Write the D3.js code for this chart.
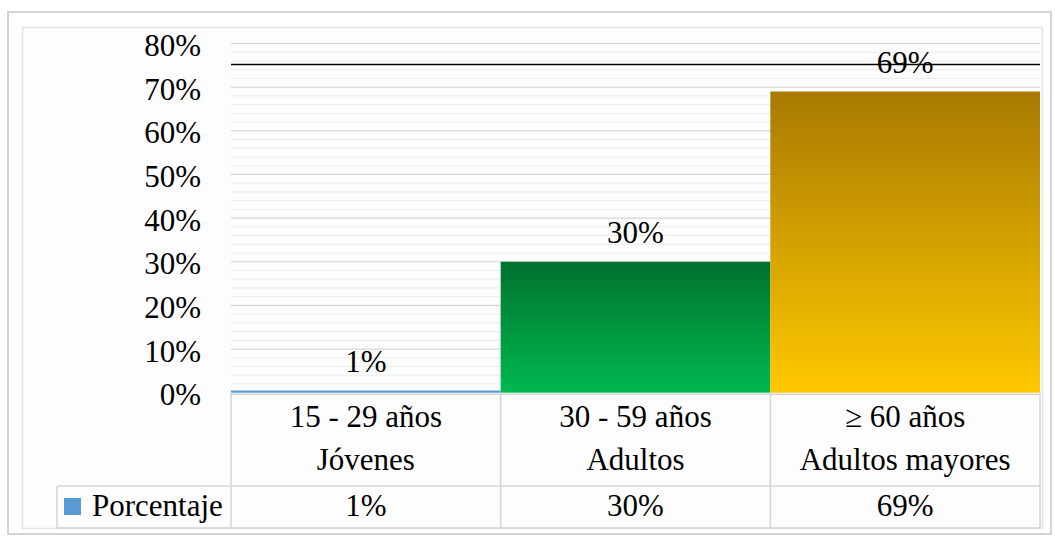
<!DOCTYPE html>
<html>
<head>
<meta charset="utf-8">
<script src="https://cdn.jsdelivr.net/npm/d3@7"></script>
<style>
  body { margin: 0; background: #fff; }
  svg { display: block; }
</style>
</head>
<body>
<svg width="1055" height="537"></svg>
<script>
// data
const categories = ["15 - 29 años|Jóvenes", "30 - 59 años|Adultos", "≥ 60 años|Adultos mayores"];
const values = [0.5, 30, 69];
const valueLabels = ["1%", "30%", "69%"];
const yTicks = [0, 10, 20, 30, 40, 50, 60, 70, 80];
const refLine = 75.2;
const seriesName = "Porcentaje";

let svg = d3.select("svg"),
    width = +svg.attr("width"),
    height = +svg.attr("height");

let plotLeft = 231, plotRight = 1040, plotTop = 43.5, plotBottom = 392.7;
let fs = 31;
let ff = "'Liberation Serif'";

// frames
svg.append("rect").attr("x", 8).attr("y", 12).attr("width", 1043).attr("height", 522)
  .attr("fill", "#fff").attr("stroke", "#d4d4d4").attr("stroke-width", 2);
svg.append("rect").attr("x", 22.5).attr("y", 27.5).attr("width", 1020).attr("height", 501)
  .attr("fill", "#fdfdfd").attr("stroke", "#e4e4e4").attr("stroke-width", 1.5);

let x = d3.scaleBand().domain(categories).range([plotLeft, plotRight]).padding(0);
let y = d3.scaleLinear().domain([0, 80]).range([plotBottom, plotTop]);

// gradients
let defs = svg.append("defs");
let grads = [
  ["g0", "#5B9BD5", "#5B9BD5"],
  ["g1", "#00722E", "#00B850"],
  ["g2", "#A87A00", "#FFC800"]
];
grads.forEach(g => {
  let lg = defs.append("linearGradient").attr("id", g[0]).attr("x1", 0).attr("y1", 0).attr("x2", 0).attr("y2", 1);
  lg.append("stop").attr("offset", "0%").attr("stop-color", g[1]);
  lg.append("stop").attr("offset", "100%").attr("stop-color", g[2]);
});

// minor gridlines every 2%
let minor = d3.range(0, 81, 2).filter(v => v % 10 !== 0);
svg.append("g").selectAll("line").data(minor).enter().append("line")
  .attr("x1", plotLeft).attr("x2", plotRight)
  .attr("y1", d => y(d)).attr("y2", d => y(d))
  .attr("stroke", "#ebebeb").attr("stroke-width", 1);
svg.append("g").selectAll("line").data(yTicks.filter(d => d > 0)).enter().append("line")
  .attr("x1", plotLeft).attr("x2", plotRight)
  .attr("y1", d => y(d)).attr("y2", d => y(d))
  .attr("stroke", "#d6d6d6").attr("stroke-width", 1.2);

function label(sel) {
  sel.style("font-family", ff).attr("font-size", fs).attr("fill", "#000");
}

// y labels
svg.append("g").selectAll("text").data(yTicks).enter().append("text")
  .call(label)
  .attr("x", 201).attr("y", d => y(d) + 12.5)
  .attr("text-anchor", "end")
  .text(d => d + "%");

// bars
svg.append("g").selectAll("rect").data(values).enter().append("rect")
  .attr("x", (d, i) => x(categories[i]))
  .attr("width", x.bandwidth())
  .attr("y", d => y(d))
  .attr("height", d => plotBottom - y(d))
  .attr("fill", (d, i) => "url(#g" + i + ")");

// reference line
svg.append("line").attr("x1", plotLeft).attr("x2", plotRight)
  .attr("y1", y(refLine)).attr("y2", y(refLine))
  .attr("stroke", "#000").attr("stroke-width", 1.6);

// value labels
svg.append("g").selectAll("text").data(values).enter().append("text")
  .call(label)
  .attr("x", (d, i) => x(categories[i]) + x.bandwidth() / 2)
  .attr("y", d => y(d) - 18.5)
  .attr("text-anchor", "middle")
  .text((d, i) => valueLabels[i]);

// data table
let rowLine = 486, tableBottom = 528, legLeft = 57;
let tg = svg.append("g").attr("stroke", "#d4d4d4").attr("stroke-width", 1.5);
tg.append("line").attr("x1", legLeft).attr("x2", plotRight).attr("y1", rowLine).attr("y2", rowLine);
tg.append("line").attr("x1", legLeft).attr("x2", plotRight).attr("y1", tableBottom).attr("y2", tableBottom);
tg.append("line").attr("x1", legLeft).attr("x2", legLeft).attr("y1", rowLine).attr("y2", tableBottom);
tg.append("line").attr("x1", plotLeft).attr("x2", plotRight).attr("y1", plotBottom + 1.5).attr("y2", plotBottom + 1.5);
x.domain().concat([null]).forEach((c, i) => {
  let xx = c === null ? plotRight : x(c);
  tg.append("line").attr("x1", xx).attr("x2", xx).attr("y1", plotBottom).attr("y2", tableBottom);
});

// category labels
let tbl = svg.append("g");
categories.forEach((c, i) => {
  let parts = c.split("|");
  let cx = x(c) + x.bandwidth() / 2;
  tbl.append("text").call(label).attr("text-anchor", "middle").attr("x", cx).attr("y", 427).text(parts[0]);
  tbl.append("text").call(label).attr("text-anchor", "middle").attr("x", cx).attr("y", 470).text(parts[1]);
  tbl.append("text").call(label).attr("text-anchor", "middle").attr("x", cx).attr("y", 515.5).text(valueLabels[i]);
});

// legend key
svg.append("rect").attr("x", 64).attr("y", 498).attr("width", 17).attr("height", 17).attr("fill", "#5B9BD5");
svg.append("text").call(label).attr("x", 92).attr("y", 515.5).text(seriesName);
</script>
</body>
</html>
